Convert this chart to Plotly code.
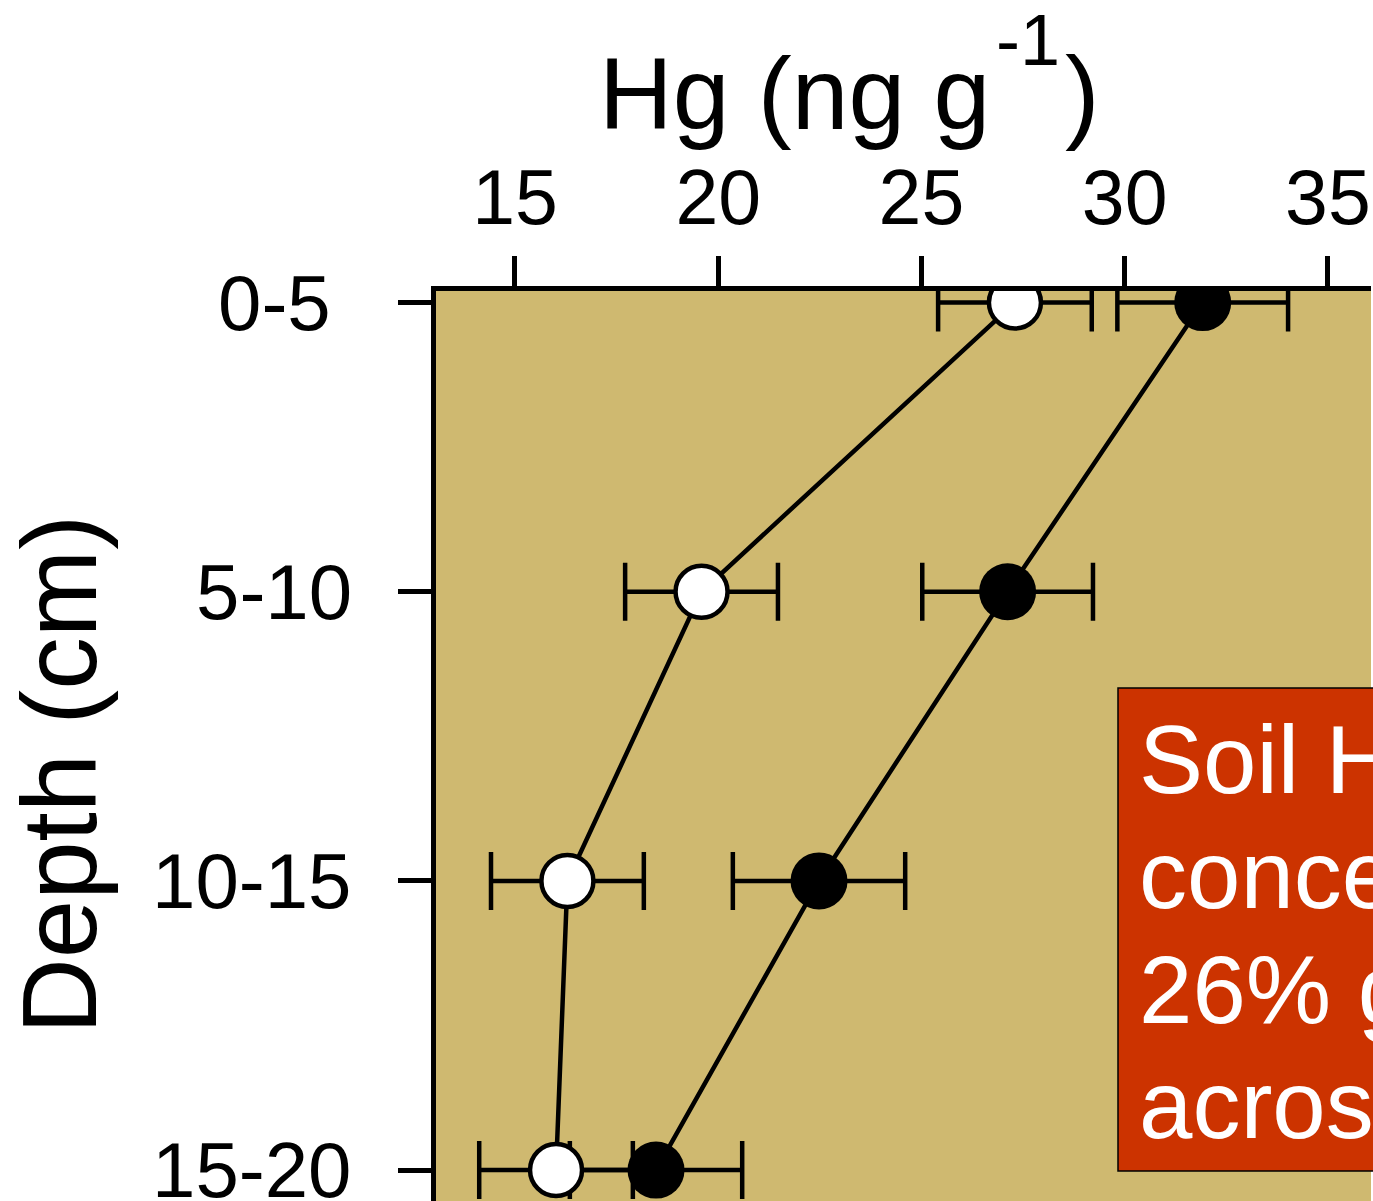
import plotly.graph_objects as go

# ---- data ----
depth_labels = ["0-5\u00a0", "5-10", "10-15", "15-20"]
depth_pos = [1, 2, 3, 4]
open_mean = [27.30, 19.59, 16.29, 16.01]
open_se = [1.89, 1.88, 1.88, 1.89]
filled_mean = [31.92, 27.12, 22.48, 18.47]
filled_se = [2.10, 2.10, 2.12, 2.12]
x_ticks = [15, 20, 25, 30, 35]
box_lines = ["Soil Hg", "concentrations", "26% greater", "across sites"]

W, H = 1373, 1201
L, R, T, B = 436, 2, 291, 0
PW, PH = W - L - R, H - T - B
FONT = "Liberation Sans, Arial, sans-serif"
LW = 4.5


def px_x(p):
    return (p - L) / PW


def px_y(p):
    return (H - B - p) / PH


fig = go.Figure()

# lines
for m in (open_mean, filled_mean):
    fig.add_trace(go.Scatter(x=m, y=depth_pos, mode="lines",
                             line=dict(color="black", width=LW),
                             hoverinfo="skip", showlegend=False))
# error bars
for m, e in ((open_mean, open_se), (filled_mean, filled_se)):
    fig.add_trace(go.Scatter(x=m, y=depth_pos, mode="markers",
                             marker=dict(size=1, opacity=0),
                             error_x=dict(type="data", array=e, visible=True,
                                          color="black", thickness=LW, width=29),
                             hoverinfo="skip", showlegend=False))
# markers
fig.add_trace(go.Scatter(x=open_mean, y=depth_pos, mode="markers",
                         marker=dict(size=52, color="white",
                                     line=dict(color="black", width=LW)),
                         showlegend=False))
fig.add_trace(go.Scatter(x=filled_mean, y=depth_pos, mode="markers",
                         marker=dict(size=57, color="black",
                                     line=dict(color="black", width=0)),
                         showlegend=False))

fig.update_layout(
    width=W, height=H,
    margin=dict(l=L, r=R, t=T, b=B, pad=0),
    paper_bgcolor="white",
    plot_bgcolor="#CFB970",
    font=dict(family=FONT, color="black"),
    showlegend=False,
)

fig.update_xaxes(
    side="top", range=[13.057, 36.06],
    tickvals=x_ticks, ticktext=[str(v) for v in x_ticks],
    ticks="outside", ticklen=30, tickwidth=LW, tickcolor="black",
    tickfont=dict(size=77, family=FONT, color="black"),
    ticklabelstandoff=1,
    showline=True, linewidth=LW, linecolor="black",
    showgrid=False, zeroline=False,
)
fig.update_yaxes(
    range=[4.107, 0.960],
    tickvals=depth_pos, showticklabels=False,
    ticks="outside", ticklen=33, tickwidth=LW, tickcolor="black",
    showline=True, linewidth=LW, linecolor="black",
    showgrid=False, zeroline=False,
)

# y tick labels
for lab, yp in zip(depth_labels, depth_pos):
    fig.add_annotation(x=px_x(354), xref="paper", y=yp, yref="y",
                       text=lab, showarrow=False, xanchor="right",
                       yanchor="middle",
                       font=dict(size=78, family=FONT, color="black"))

# x axis title: Hg (ng g^-1)
fig.add_annotation(x=px_x(992), xref="paper", y=px_y(153), yref="paper",
                   text="Hg (ng g", showarrow=False,
                   xanchor="right", yanchor="bottom",
                   font=dict(size=102, family=FONT, color="black"))
fig.add_annotation(x=px_x(994), xref="paper", y=px_y(82), yref="paper",
                   text="-1", showarrow=False,
                   xanchor="left", yanchor="bottom",
                   font=dict(size=72, family=FONT, color="black"))
fig.add_annotation(x=px_x(1063), xref="paper", y=px_y(153), yref="paper",
                   text=")", showarrow=False,
                   xanchor="left", yanchor="bottom",
                   font=dict(size=104, family=FONT, color="black"))

fig.add_annotation(x=px_x(59), xref="paper", y=px_y(775), yref="paper",
                   text="Depth (cm)", showarrow=False, textangle=-90,
                   xanchor="center", yanchor="middle",
                   font=dict(size=105, family=FONT, color="black"))

# red box
fig.add_shape(type="rect", xref="paper", yref="paper",
              x0=px_x(1118), x1=px_x(1500), y0=px_y(1171), y1=px_y(688),
              fillcolor="#CC3300", line=dict(color="black", width=1.5),
              layer="above")
baselines = [792, 907, 1022, 1137]
for txt, bl in zip(box_lines, baselines):
    fig.add_annotation(x=px_x(1137), xref="paper", y=px_y(bl - 33), yref="paper",
                       text=txt, showarrow=False, xanchor="left",
                       yanchor="middle", align="left",
                       font=dict(size=96, family=FONT, color="white"))

fig.write_html(
    "out.html",
    config={"displayModeBar": False},
    post_script="document.body.style.margin='0';document.body.style.overflow='hidden';",
)
